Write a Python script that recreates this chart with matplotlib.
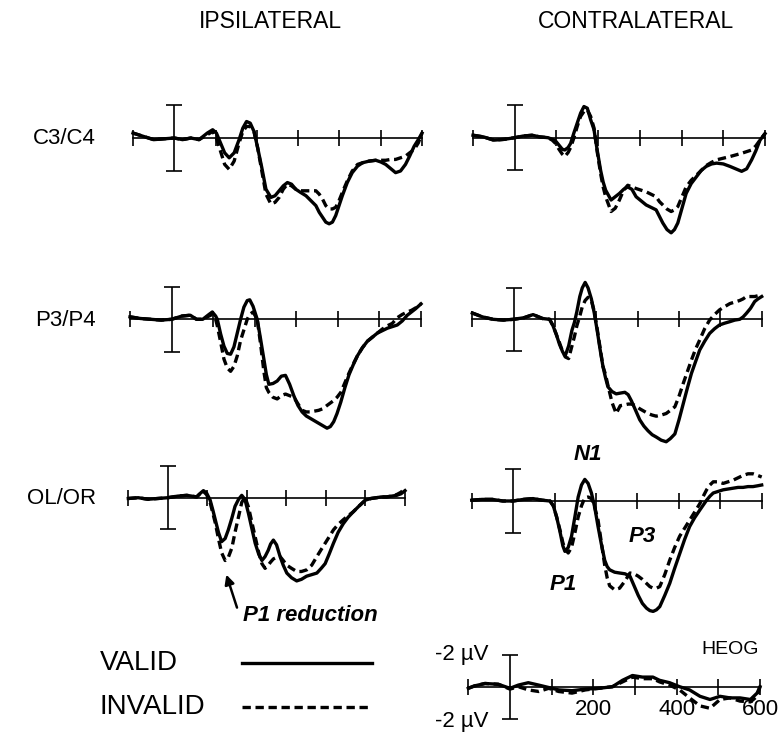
import matplotlib
matplotlib.use("Agg")
import matplotlib.pyplot as plt

plt.rcParams['font.family'] = ['Liberation Sans', 'DejaVu Sans']

W, H = 781, 734

# czasy (ms) i amplitudy (uV, dodatnie w dol)
t_c3_ipsi = [-100, -75, -50, -25, 0, 20, 40, 60, 80, 93, 102, 112, 122, 133, 145, 157, 166, 175, 184, 193,
             202, 212, 222, 234, 244, 254, 264, 274, 284, 294, 306, 319, 331, 343, 351, 359, 367, 375, 383, 391,
             399, 407, 419, 431, 444, 456, 472, 488, 500, 512, 524, 536, 548, 560, 570, 581, 591, 600]
valid_c3_ipsi = [-0.3, -0.1, 0.1, 0.05, 0, 0.1, 0.0, 0.1, -0.3, -0.5, -0.3, 0.3, 0.9, 1.2, 0.9, 0.1, -0.6, -1.0,
                 -0.9, -0.4, 0.6, 1.8, 3.1, 3.6, 3.5, 3.2, 2.9, 2.7, 2.8, 3.1, 3.3, 3.5, 3.8, 4.1, 4.5, 4.8, 5.1,
                 5.2, 5.1, 4.7, 4.1, 3.5, 2.7, 2.1, 1.7, 1.5, 1.4, 1.35, 1.45, 1.6, 1.85, 2.1, 2.0, 1.6, 1.1, 0.5,
                 0.1, -0.3]
invalid_c3_ipsi = [-0.3, -0.1, 0.1, 0.05, 0, 0.1, 0.0, 0.1, -0.2, -0.4, 0.0, 0.8, 1.6, 1.9, 1.4, 0.3, -0.4, -0.7,
                   -0.7, -0.4, 0.6, 2.0, 3.4, 4.0, 3.9, 3.6, 3.1, 2.8, 2.9, 3.1, 3.2, 3.2, 3.2, 3.2, 3.4, 3.7, 4.1,
                   4.3, 4.3, 4.2, 3.8, 3.3, 2.6, 2.0, 1.6, 1.5, 1.4, 1.35, 1.35, 1.35, 1.3, 1.3, 1.2, 1.1, 0.9, 0.7,
                   0.3, -0.3]

t_c4_contra = [-100, -75, -50, -25, 0, 20, 42, 60, 80, 90, 98, 106, 114, 120, 128, 134, 142, 150, 158, 166,
               174, 182, 190, 198, 206, 212, 218, 231, 241, 251, 261, 271, 281, 291, 303, 315, 327, 339, 347, 355,
               365, 375, 383, 391, 401, 411, 423, 435, 447, 459, 472, 484, 500, 516, 530, 544, 556, 568, 578, 588,
               600]
valid_c4_contra = [-0.15, -0.05, 0.15, 0.1, 0, -0.1, -0.15, -0.05, 0.0, 0.1, 0.2, 0.45, 0.7, 0.75, 0.6, 0.35,
                   -0.3, -0.9, -1.5, -1.9, -1.8, -1.1, -0.5, 0.8, 2.0, 2.7, 3.2, 3.8, 3.6, 3.4, 3.15, 3.0, 3.15,
                   3.6, 3.85, 4.1, 4.25, 4.4, 4.8, 5.2, 5.6, 5.8, 5.6, 5.2, 4.3, 3.4, 2.8, 2.4, 2.0, 1.75, 1.6,
                   1.55, 1.6, 1.75, 1.9, 2.05, 1.9, 1.35, 0.8, 0.15, -0.25]
invalid_c4_contra = [-0.15, -0.05, 0.15, 0.1, 0, -0.1, -0.15, -0.05, 0.0, 0.15, 0.35, 0.7, 1.0, 1.15, 0.9, 0.6,
                     0.0, -0.7, -1.3, -1.6, -1.7, -1.3, -0.6, 0.9, 2.2, 3.0, 3.6, 4.5, 4.3, 3.8, 3.2, 2.9, 3.0,
                     3.1, 3.2, 3.3, 3.45, 3.6, 3.9, 4.1, 4.35, 4.5, 4.4, 4.2, 3.6, 3.0, 2.6, 2.3, 2.0, 1.7, 1.5,
                     1.35, 1.25, 1.15, 1.05, 0.95, 0.85, 0.75, 0.5, 0.15, -0.25]

t_p3_ipsi = [-100, -75, -50, -25, 0, 25, 45, 60, 75, 90, 98, 106, 110, 118, 126, 134, 142, 150, 158, 166, 174,
             182, 188, 196, 206, 214, 222, 228, 234, 244, 254, 264, 274, 284, 294, 304, 314, 324, 334, 344, 354,
             364, 374, 382, 390, 398, 407, 417, 427, 437, 447, 459, 471, 483, 495, 507, 519, 531, 543, 555, 567,
             577, 587, 600]
valid_p3_ipsi = [-0.15, -0.05, 0.0, 0.05, 0.0, -0.2, -0.25, 0.0, 0.0, -0.3, -0.45, -0.2, 0.0, 0.9, 1.65, 2.1,
                 2.15, 1.7, 0.85, 0.0, -0.75, -1.15, -1.2, -0.8, 0.0, 1.2, 2.45, 3.4, 4.0, 3.95, 3.8, 3.5, 3.45,
                 4.0, 4.7, 5.3, 5.7, 5.95, 6.1, 6.25, 6.4, 6.55, 6.7, 6.6, 6.3, 5.8, 5.1, 4.2, 3.4, 2.8, 2.25,
                 1.75, 1.35, 1.1, 0.85, 0.7, 0.55, 0.45, 0.35, 0.1, -0.25, -0.45, -0.65, -0.95]
invalid_p3_ipsi = [-0.15, -0.05, 0.0, 0.05, 0.0, -0.2, -0.25, 0.0, 0.0, -0.2, -0.3, 0.0, 0.4, 1.4, 2.45, 3.0,
                   3.2, 2.9, 2.25, 1.3, 0.65, 0.0, -0.3, -0.45, 0.0, 1.5, 3.2, 4.2, 4.5, 4.8, 4.9, 4.7, 4.6, 4.7,
                   4.8, 5.2, 5.6, 5.7, 5.7, 5.65, 5.6, 5.5, 5.3, 5.15, 5.0, 4.8, 4.5, 3.9, 3.3, 2.75, 2.25, 1.75,
                   1.35, 1.1, 0.85, 0.6, 0.4, 0.25, -0.1, -0.3, -0.45, -0.55, -0.7, -0.95]

t_p4_contra = [-100, -75, -50, -25, 0, 25, 47, 70, 87, 95, 103, 111, 119, 125, 133, 141, 147, 153, 160, 166,
               173, 180, 188, 195, 202, 209, 216, 222, 228, 238, 248, 258, 269, 277, 285, 295, 305, 315, 325, 335,
               345, 357, 369, 379, 390, 400, 410, 420, 430, 440, 450, 462, 474, 486, 498, 510, 523, 535, 547, 555,
               563, 573, 583, 591, 600]
valid_p4_contra = [-0.4, -0.15, 0.0, 0.05, 0, -0.1, -0.3, -0.05, 0.0, 0.4, 0.95, 1.6, 2.1, 2.3, 1.7, 0.7, 0.2,
                   -0.5, -1.45, -2.0, -2.35, -2.0, -1.3, -0.4, 0.7, 1.9, 3.0, 3.7, 4.3, 4.6, 4.75, 4.7, 4.65, 4.8,
                   5.2, 5.8, 6.4, 6.8, 7.1, 7.35, 7.5, 7.7, 7.8, 7.6, 7.3, 6.4, 5.4, 4.4, 3.45, 2.7, 1.96, 1.4,
                   0.9, 0.6, 0.36, 0.25, 0.15, 0.05, 0.0, -0.15, -0.38, -0.7, -1.13, -1.3, -1.45]
invalid_p4_contra = [-0.4, -0.15, 0.0, 0.05, 0, -0.1, -0.3, -0.05, 0.0, 0.4, 0.95, 1.5, 2.1, 2.4, 2.5, 1.7,
                     1.1, 0.4, -0.2, -0.8, -1.2, -1.4, -1.2, -0.5, 0.6, 1.8, 3.0, 3.5, 4.2, 5.3, 6.0, 5.5, 5.45,
                     5.4, 5.4, 5.5, 5.7, 5.85, 6.0, 6.1, 6.17, 6.1, 6.0, 5.8, 5.57, 4.9, 4.1, 3.35, 2.6, 1.9, 1.32,
                     0.6, 0.05, -0.3, -0.6, -0.8, -1.0, -1.1, -1.2, -1.3, -1.45, -1.45, -1.45, -1.5, -1.5]

t_ol_ipsi = [-100, -75, -50, -25, 0, 25, 48, 73, 83, 90, 98, 107, 114, 120, 128, 136, 145, 153, 162, 170, 179,
             187, 195, 204, 212, 221, 230, 238, 246, 254, 260, 267, 275, 284, 292, 301, 313, 326, 338, 351, 364,
             377, 388, 398, 408, 419, 431, 444, 456, 469, 485, 500, 514, 528, 540, 553, 566, 579, 590, 600]
valid_ol_ipsi = [0.05, 0.0, 0.1, 0.05, 0, -0.1, -0.15, -0.05, -0.3, -0.45, -0.3, 0.15, 0.8, 1.4, 2.2, 2.8, 2.6,
                 2.05, 1.3, 0.55, 0.1, -0.15, 0.1, 1.0, 1.9, 2.9, 3.6, 4.0, 3.75, 3.35, 2.95, 2.7, 3.0, 3.75, 4.3,
                 4.8, 5.1, 5.3, 5.2, 5.0, 4.9, 4.8, 4.5, 4.2, 3.6, 2.9, 2.2, 1.65, 1.25, 0.9, 0.5, 0.15, 0.05, 0.0,
                 -0.05, -0.05, -0.1, -0.15, -0.25, -0.45]
invalid_ol_ipsi = [0.05, 0.0, 0.1, 0.05, 0, -0.1, -0.15, -0.05, -0.3, -0.4, -0.2, 0.3, 1.0, 1.6, 2.6, 3.5, 4.0,
                   3.8, 3.2, 2.2, 1.2, 0.3, -0.05, 0.6, 1.5, 2.5, 3.5, 4.2, 4.5, 4.3, 4.1, 3.9, 3.8, 3.75, 4.0,
                   4.3, 4.5, 4.7, 4.7, 4.6, 4.3, 3.75, 3.3, 2.9, 2.5, 2.05, 1.7, 1.4, 1.15, 0.9, 0.5, 0.15, 0.05,
                   0.0, -0.05, -0.05, -0.1, -0.2, -0.35, -0.6]

t_or_contra = [-100, -75, -50, -25, 0, 25, 48, 70, 89, 97, 105, 113, 120, 125, 133, 141, 149, 157, 165, 173,
               181, 189, 197, 205, 213, 221, 227, 233, 245, 257, 270, 282, 292, 302, 312, 322, 330, 338, 346, 354,
               366, 378, 390, 402, 414, 426, 438, 451, 459, 467, 475, 483, 495, 507, 519, 531, 543, 555, 567, 579,
               590, 600]
valid_or_contra = [-0.05, -0.1, -0.1, 0.0, 0, -0.1, -0.15, -0.05, 0.0, 0.3, 1.0, 1.9, 2.8, 3.15, 2.9, 2.2, 1.0,
                   -0.25, -1.0, -1.35, -1.1, -0.5, 0.4, 1.6, 2.7, 3.7, 4.1, 4.3, 4.45, 4.5, 4.55, 4.7, 5.3, 5.9,
                   6.4, 6.7, 6.85, 6.9, 6.8, 6.6, 5.9, 5.15, 4.2, 3.3, 2.4, 1.6, 1.05, 0.55, 0.25, -0.05, -0.3,
                   -0.5, -0.6, -0.7, -0.75, -0.8, -0.85, -0.85, -0.9, -0.9, -0.95, -1.0]
invalid_or_contra = [-0.05, -0.1, -0.1, 0.0, 0, -0.1, -0.15, -0.05, 0.0, 0.3, 1.0, 1.8, 2.6, 3.0, 3.25, 2.9,
                     2.0, 1.0, 0.3, -0.2, -0.25, -0.15, 0.4, 1.2, 2.6, 4.0, 4.8, 5.3, 5.55, 5.45, 5.0, 4.5, 4.55,
                     4.7, 4.9, 5.15, 5.35, 5.45, 5.45, 5.35, 4.6, 3.7, 2.9, 2.2, 1.7, 1.2, 0.7, 0.15, -0.3, -0.7,
                     -1.0, -1.2, -1.2, -1.1, -1.2, -1.3, -1.45, -1.6, -1.7, -1.7, -1.6, -1.5]

t_heog = [-100, -85, -60, -28, 0, 20, 44, 69, 93, 117, 149, 181, 214, 246, 270, 294, 318, 343, 359, 383, 407,
          431, 456, 480, 504, 528, 552, 577, 593, 600]
valid_heog = [0.1, -0.05, -0.2, -0.15, 0.1, -0.1, -0.25, -0.1, 0.05, 0.2, 0.25, 0.15, 0.1, 0.0, -0.4, -0.7,
              -0.6, -0.6, -0.4, -0.25, 0.0, 0.2, 0.6, 0.8, 0.6, 0.7, 0.7, 0.8, 0.4, 0.0]
invalid_heog = [0.1, -0.05, -0.2, -0.15, 0.15, 0.0, 0.2, 0.3, 0.1, 0.3, 0.4, 0.2, 0.1, 0.0, -0.3, -0.6, -0.5,
                -0.5, -0.3, -0.1, 0.2, 0.7, 1.2, 1.35, 0.8, 0.7, 0.9, 0.95, 0.6, 0.0]

time_ticks = [-100, 100, 200, 300, 400, 500, 600]
heog_tick_labels = ['', '', '200', '', '400', '', '600']
row_names = ['C3/C4', 'P3/P4', 'OL/OR']
legend_names = ['VALID', 'INVALID']

LW = 2.4
DASH = (0, (2.5, 1.4))


# Jeden panel ERP: os czasu w zerze, pionowy odcinek kalibracji +-2 uV
def add_panel(fig, x_start, x_end, baseline, px_per_uv, top_uv=-4.0, bottom_uv=9.0):
    top_px = baseline + top_uv * px_per_uv
    bottom_px = baseline + bottom_uv * px_per_uv
    ax = fig.add_axes([x_start / W, 1 - bottom_px / H, (x_end - x_start) / W, (bottom_px - top_px) / H])
    ax.set_xlim(-100, 600)
    ax.set_ylim(bottom_uv, top_uv)
    ax.patch.set_visible(False)
    for side in ['top', 'right', 'left']:
        ax.spines[side].set_visible(False)
    ax.spines['bottom'].set_position(('data', 0))
    ax.spines['bottom'].set_linewidth(1.2)
    ax.set_yticks([])
    ax.set_xticks(time_ticks)
    ax.tick_params(axis='x', direction='inout', length=11.5, width=1.2, labelbottom=False)
    ax.errorbar([0], [0], yerr=[2], color='black', lw=1.2, capsize=5.5, capthick=1.2)
    return ax


def plot_waves(ax, t, valid, invalid):
    ax.plot(t, invalid, color='black', lw=LW, linestyle=DASH, clip_on=False)
    ax.plot(t, valid, color='black', lw=LW, solid_joinstyle='round', clip_on=False)


def main():
    fig = plt.figure(figsize=(W / 100, H / 100), dpi=100)

    fig.text(270 / W, 1 - 21 / H, 'IPSILATERAL', ha='center', va='center', fontsize=16.5)
    fig.text(636 / W, 1 - 21 / H, 'CONTRALATERAL', ha='center', va='center', fontsize=16.5)

    for name, y in zip(row_names, [139, 320, 498]):
        fig.text(96 / W, 1 - y / H, name, ha='right', va='center', fontsize=16)

    ax = add_panel(fig, 133, 422, 138, 16.5)
    plot_waves(ax, t_c3_ipsi, valid_c3_ipsi, invalid_c3_ipsi)
    ax = add_panel(fig, 473, 765, 137.7, 16.4)
    plot_waves(ax, t_c4_contra, valid_c4_contra, invalid_c4_contra)

    ax = add_panel(fig, 130, 421, 319.3, 16.25)
    plot_waves(ax, t_p3_ipsi, valid_p3_ipsi, invalid_p3_ipsi)
    ax = add_panel(fig, 472.3, 761.7, 319.3, 15.7)
    plot_waves(ax, t_p4_contra, valid_p4_contra, invalid_p4_contra)

    ax = add_panel(fig, 128.3, 405, 497.7, 15.7)
    plot_waves(ax, t_ol_ipsi, valid_ol_ipsi, invalid_ol_ipsi)
    ax.annotate('', xy=(148, 4.9), xytext=(175, 7.0),
                arrowprops=dict(arrowstyle='-|>', color='black', lw=1.8, mutation_scale=14, shrinkA=0, shrinkB=0))
    ax.text(191, 7.5, 'P1 reduction', ha='left', va='center', fontsize=16, fontweight='bold', style='italic')

    ax = add_panel(fig, 471.7, 761.7, 501, 16.0)
    plot_waves(ax, t_or_contra, valid_or_contra, invalid_or_contra)
    ax.text(180, -2.9, 'N1', ha='center', va='center', fontsize=16, fontweight='bold', style='italic')
    ax.text(311, 2.2, 'P3', ha='center', va='center', fontsize=16, fontweight='bold', style='italic')
    ax.text(122, 5.25, 'P1', ha='center', va='center', fontsize=16, fontweight='bold', style='italic')

    # HEOG
    ax = add_panel(fig, 468.3, 760, 686.7, 16.0, top_uv=-3.0, bottom_uv=3.0)
    plot_waves(ax, t_heog, valid_heog, invalid_heog)
    ax.tick_params(axis='x', labelbottom=True, labelsize=16, pad=3)
    ax.set_xticklabels(heog_tick_labels)
    ax.text(-52, -2.0, '-2 \u00b5V', ha='right', va='center', fontsize=16)
    ax.text(-52, 2.2, '-2 \u00b5V', ha='right', va='center', fontsize=16)
    ax.text(598, -2.3, 'HEOG', ha='right', va='center', fontsize=14)

    # legenda
    key = fig.add_axes([100 / W, 1 - 725 / H, 275 / W, 85 / H])
    key.set_xlim(0, 275)
    key.set_ylim(85, 0)
    key.axis('off')
    styles = ['-', DASH]
    for i, name in enumerate(legend_names):
        y = 23 + 44 * i
        key.text(0, y, name, ha='left', va='center', fontsize=20)
        key.plot([142, 272], [y, y], color='black', lw=LW, linestyle=styles[i])

    fig.savefig('out.png', dpi=100)


if __name__ == "__main__":
    main()
